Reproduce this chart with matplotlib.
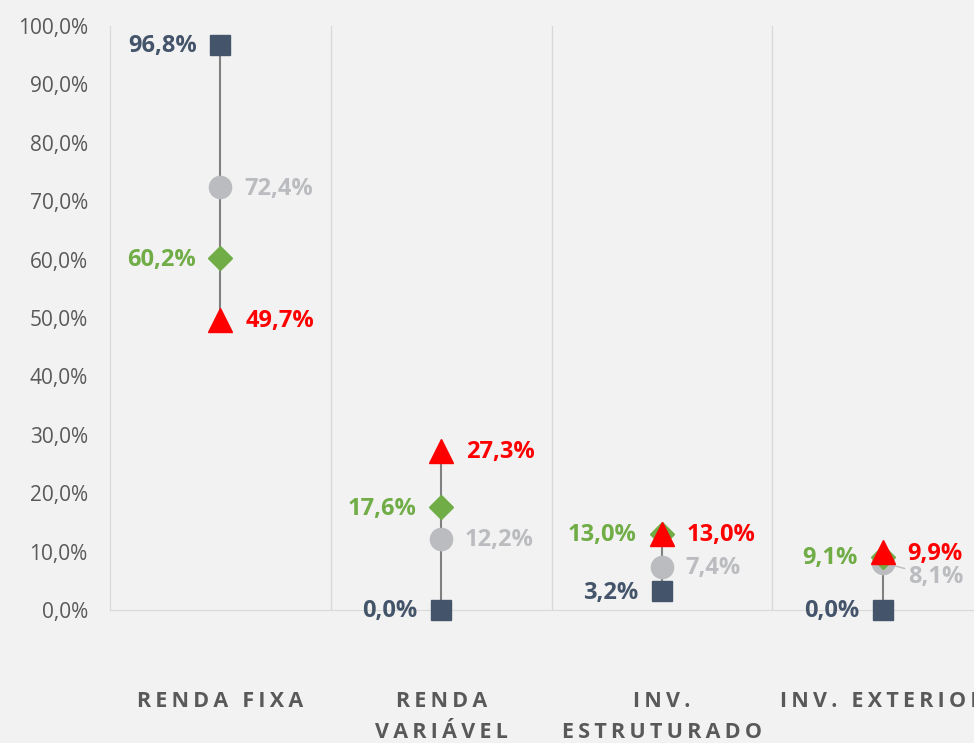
import numpy as np
import matplotlib.pyplot as plt
from matplotlib.ticker import FuncFormatter

plt.rcParams['font.family'] = ['Open Sans', 'DejaVu Sans']

categorias = ['RENDA FIXA', 'RENDA\nVARIÁVEL', 'INV.\nESTRUTURADO', 'INV. EXTERIOR']
quadrado = [96.8, 0.0, 3.2, 0.0]     # azul escuro
circulo = [72.4, 12.2, 7.4, 8.1]     # cinza
losango = [60.2, 17.6, 13.0, 9.1]    # verde
triangulo = [49.7, 27.3, 13.0, 9.9]  # vermelho

c_azul = '#44546A'
c_cinza = '#BBBCBF'
c_verde = '#70AD47'
c_verm = '#FF0000'
c_grid = '#D9D9D9'
c_txt = '#595959'
fundo = '#F2F2F2'


def espacar(s):
    # espaçamento entre letras
    return '\n'.join('\u2009'.join(list(l)) for l in s.split('\n'))


def pct(v):
    return ('%.1f%%' % v).replace('.', ',')


fig = plt.figure(figsize=(9.74, 7.43), dpi=100, facecolor=fundo)
ax = fig.add_axes([110/974, 133/743, 883/974, 584/743])
ax.set_facecolor(fundo)

x = np.arange(len(categorias))
dados = np.vstack((quadrado, circulo, losango, triangulo))
ax.vlines(x, dados.min(axis=0), dados.max(axis=0), color='#808080', lw=1.5, zorder=2)

ax.plot(x, quadrado, 's', ms=14.5, color=c_azul, ls='none', zorder=3, clip_on=False)
ax.plot(x, circulo, 'o', ms=16, color=c_cinza, ls='none', zorder=3, clip_on=False)
ax.plot(x, losango, 'D', ms=12, color=c_verde, ls='none', zorder=4, clip_on=False)
ax.plot(x, triangulo, '^', ms=17, color=c_verm, ls='none', zorder=5, clip_on=False)

fs = 17
for i in range(len(x)):
    ax.annotate(pct(quadrado[i]), (x[i], quadrado[i]), xytext=(-17, -1), textcoords='offset points',
                ha='right', va='center', color=c_azul, fontsize=fs, fontweight='bold')
    ax.annotate(pct(losango[i]), (x[i], losango[i]), xytext=(-18, -1), textcoords='offset points',
                ha='right', va='center', color=c_verde, fontsize=fs, fontweight='bold')
    ax.annotate(pct(triangulo[i]), (x[i], triangulo[i]), xytext=(18, -1), textcoords='offset points',
                ha='left', va='center', color=c_verm, fontsize=fs, fontweight='bold')
    if i == 3:
        ax.annotate(pct(circulo[i]), (x[i], circulo[i]), xytext=(18, -10), textcoords='offset points',
                    ha='left', va='center', color=c_cinza, fontsize=fs, fontweight='bold',
                    arrowprops=dict(arrowstyle='-', color=c_cinza, lw=1, shrinkA=0, shrinkB=7))
    else:
        ax.annotate(pct(circulo[i]), (x[i], circulo[i]), xytext=(17, -1), textcoords='offset points',
                    ha='left', va='center', color=c_cinza, fontsize=fs, fontweight='bold')

ax.set_xlim(-0.5, len(categorias) - 0.5)
ax.set_ylim(0, 100)
ax.set_yticks(np.arange(0, 101, 10))
ax.yaxis.set_major_formatter(FuncFormatter(lambda v, p: pct(v)))
ax.tick_params(axis='y', length=0, pad=16, labelsize=15, labelcolor=c_txt)

ax.set_xticks(x)
ax.set_xticklabels([espacar(c) for c in categorias], fontsize=15.5, fontweight='bold',
                   color=c_txt, linespacing=1.65, va='top')
ax.tick_params(axis='x', length=0, pad=58)

ax.set_xticks(x[:-1] + 0.5, minor=True)
ax.tick_params(axis='x', which='minor', length=0)
ax.grid(True, which='minor', axis='x', color=c_grid, lw=1)

for s in ['top', 'right']:
    ax.spines[s].set_visible(False)
ax.spines['left'].set_color(c_grid)
ax.spines['bottom'].set_color(c_grid)

plt.savefig('out.png', dpi=100, facecolor=fundo)
